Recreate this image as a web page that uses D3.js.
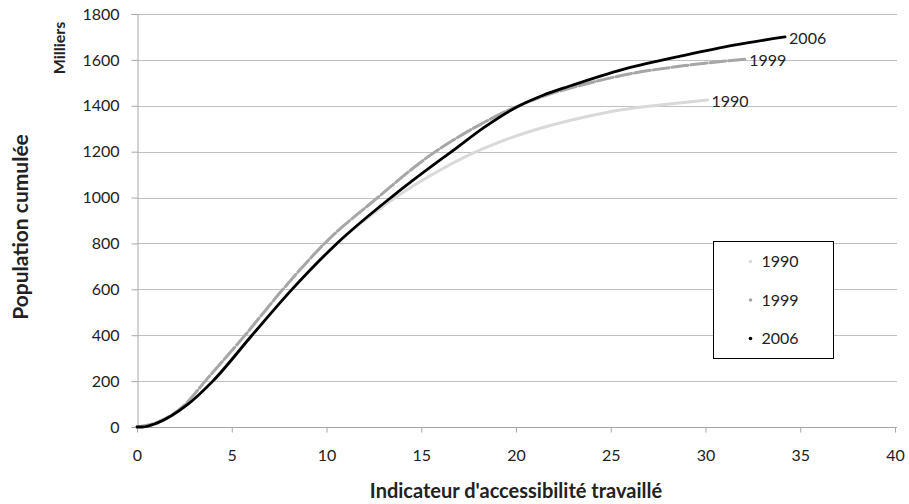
<!DOCTYPE html>
<html>
<head>
<meta charset="utf-8">
<script src="https://cdn.jsdelivr.net/npm/d3@7"></script>
<style>
  body { margin: 0; background: #fff; }
  text { font-family: Lato, "Open Sans", sans-serif; fill: #222; }
</style>
</head>
<body>
<script>
// values (x = indicateur, y = population in thousands)
var access1990 = [0, 1.05, 2.64, 4.0, 6.07, 8.18, 10.55, 13.2, 16.0, 17.9, 19.15, 21.2, 23.4, 25.5, 28.1, 30.1];
var pop1990    = [0, 17, 96, 200, 400, 600, 800, 975, 1120, 1200, 1243, 1300, 1347, 1382, 1408, 1425];

var access1999 = [0, 1.0, 2.5, 3.6, 5.7, 7.7, 9.9, 12.7, 15.5, 17.6, 19.9, 21.5, 23.0, 26.2, 29.0, 32.1];
var pop1999    = [0, 18, 95, 200, 400, 600, 800, 1000, 1186, 1295, 1392, 1443, 1480, 1542, 1576, 1603];

var access2006 = [0, 0.3, 1.05, 2.64, 4.0, 6.07, 8.18, 10.55, 13.4, 16.0, 16.6, 18.3, 20.05, 21.4, 22.8, 25.7, 29.0, 31.5, 34.2];
var pop2006    = [0, 0, 17, 96, 200, 400, 600, 800, 1000, 1164, 1200, 1305, 1395, 1445, 1485, 1560, 1622, 1664, 1700];

var seriesNames = ["1990", "1999", "2006"];
var xTicks = [0, 5, 10, 15, 20, 25, 30, 35, 40];
var yTicks = [0, 200, 400, 600, 800, 1000, 1200, 1400, 1600, 1800];

function zipSeries(xs, ys) {
    return xs.map(function (x, i) { return {x: x, y: ys[i]}; });
}

var series = [
    {name: seriesNames[0], values: zipSeries(access1990, pop1990), color: "#d9d9d9", dash: null},
    {name: seriesNames[1], values: zipSeries(access1999, pop1999), color: "#a6a6a6", dash: "16,3"},
    {name: seriesNames[2], values: zipSeries(access2006, pop2006), color: "#000000", dash: null}
];

var width = 909, height = 504;
var svg = d3.select("body").append("svg")
    .attr("width", width)
    .attr("height", height);

var xScale = d3.scaleLinear().domain([0, 40]).range([137, 895]);
var yScale = d3.scaleLinear().domain([0, 1800]).range([427, 14]);

// horizontal gridlines
svg.append("g")
    .selectAll("line")
    .data(yTicks.filter(function (d) { return d > 0; }))
    .enter().append("line")
    .attr("x1", xScale(0))
    .attr("x2", xScale(40) + 2)
    .attr("y1", function (d) { return Math.round(yScale(d)) + 0.5; })
    .attr("y2", function (d) { return Math.round(yScale(d)) + 0.5; })
    .attr("stroke", "#c0c0c0")
    .attr("stroke-width", 1);

var yAxis = d3.axisLeft(yScale).tickValues(yTicks).tickFormat(d3.format("d")).tickSize(6).tickPadding(12);
var xAxis = d3.axisBottom(xScale).tickValues(xTicks).tickFormat(d3.format("d")).tickSize(5).tickPadding(17);

var gy = svg.append("g")
    .attr("transform", "translate(" + (Math.round(xScale(0)) + 0.5) + ",0)")
    .call(yAxis);
var gx = svg.append("g")
    .attr("transform", "translate(0," + (Math.round(yScale(0)) + 0.5) + ")")
    .call(xAxis);

[gx, gy].forEach(function (g) {
    g.select(".domain").attr("stroke", "#a6a6a6");
    g.selectAll(".tick line").attr("stroke", "#a6a6a6");
    g.selectAll(".tick text")
        .style("font-size", "16px")
        .style("font-family", "Lato, sans-serif")
        .attr("fill", "#222");
});
gx.select(".domain").attr("d", "M" + xScale(0) + ",0H" + (xScale(40) + 2));

// curves
var line = d3.line()
    .x(function (d) { return xScale(d.x); })
    .y(function (d) { return yScale(d.y); })
    .curve(d3.curveMonotoneX);

svg.append("g")
    .selectAll("path")
    .data(series)
    .enter().append("path")
    .attr("d", function (d) { return line(d.values); })
    .attr("fill", "none")
    .attr("stroke", function (d) { return d.color; })
    .attr("stroke-width", function (d) { return d.name === "2006" ? 2.8 : 3; })
    .attr("stroke-dasharray", function (d) { return d.dash; })
    .attr("stroke-linecap", "round");

// labels at the end of each curve
svg.append("g")
    .selectAll("text")
    .data(series)
    .enter().append("text")
    .attr("x", function (d) { return xScale(d.values[d.values.length - 1].x) + 4; })
    .attr("y", function (d) { return yScale(d.values[d.values.length - 1].y) + 1; })
    .attr("dy", "0.35em")
    .style("font-size", "16px")
    .text(function (d) { return d.name; });

// legend
var legend = svg.append("g").attr("transform", "translate(713.5,241.5)");
legend.append("rect")
    .attr("width", 120)
    .attr("height", 117)
    .attr("fill", "#fff")
    .attr("stroke", "#000")
    .attr("stroke-width", 1);
var entry = legend.selectAll("g.entry")
    .data(series)
    .enter().append("g")
    .attr("class", "entry")
    .attr("transform", function (d, i) { return "translate(0," + (20 + i * 38.5) + ")"; });
entry.append("circle")
    .attr("cx", 37)
    .attr("cy", 0)
    .attr("r", 1.8)
    .attr("fill", function (d) { return d.color; });
entry.append("text")
    .attr("x", 48)
    .attr("y", 0)
    .attr("dy", "0.35em")
    .style("font-size", "16px")
    .text(function (d) { return d.name; });

// axis titles
svg.append("text")
    .attr("transform", "translate(28,227) rotate(-90)")
    .attr("text-anchor", "middle")
    .style("font-size", "21px")
    .style("font-weight", "bold")
    .attr("fill", "#000")
    .text("Population cumulée");

svg.append("text")
    .attr("transform", "translate(65,48) rotate(-90)")
    .attr("text-anchor", "middle")
    .style("font-size", "16px")
    .style("font-weight", "bold")
    .attr("fill", "#000")
    .text("Milliers");

svg.append("text")
    .attr("x", 516)
    .attr("y", 498)
    .attr("text-anchor", "middle")
    .style("font-size", "20px")
    .style("font-weight", "bold")
    .attr("fill", "#000")
    .text("Indicateur d'accessibilité travaillé");
</script>
</body>
</html>
